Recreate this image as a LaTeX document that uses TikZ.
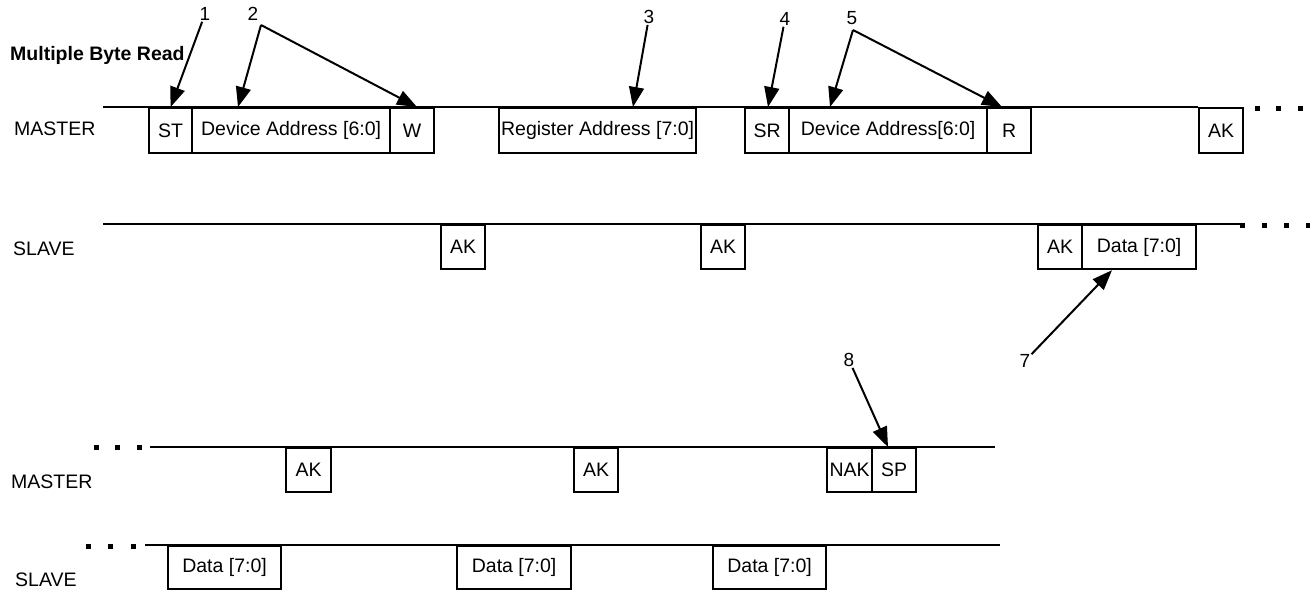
\documentclass[tikz,border=0pt]{standalone}
\usepackage{fontspec}
\setmainfont{Liberation Sans}
\usetikzlibrary{arrows.meta}
\newcommand*{\gapDots}[2]{ %#1 is the height of the wire, #2 the list of x positions
	\foreach \x in {#2}
	\fill (\x-2.5,#1-2.5) rectangle ++(5,5);
}
\tikzset{
	fld/.style={draw, line width=2.2pt, anchor=north west, inner sep=0pt,
		minimum height=45pt, font=\fontsize{19.5}{22}\selectfont},
	wire/.style={line width=2.2pt},
	callout/.style={line width=2pt, -{Triangle[length=20pt,width=15pt]}},
	num/.style={font=\fontsize{19}{21}\selectfont, inner sep=1pt},
	rowname/.style={anchor=west, inner sep=0pt, font=\fontsize{19.5}{22}\selectfont},
}

\begin{document}
\begin{tikzpicture}[x=1pt,y=-1pt]
		\useasboundingbox (0,0) rectangle (1310,590);
		
		% title and row names
		\node[rowname,font=\fontsize{19.5}{22}\selectfont\bfseries] (title) at (10,55) {Multiple Byte Read};
		\node[rowname] (mst1) at (14,129) {MASTER};
		\node[rowname] (slv1) at (13,249) {SLAVE};
		\node[rowname] (mst2) at (11,482) {MASTER};
		\node[rowname] (slv2) at (15,580) {SLAVE};
		
		% the wires
		\draw[wire] (103,107) -- (1198,107);
		\draw[wire] (103,224) -- (1242,224);
		\draw[wire] (150,447) -- (995,447);
		\draw[wire] (145,545) -- (1000,545);
		\gapDots{108}{1257,1278,1300}
		\gapDots{225}{1242,1264,1286,1308}
		\gapDots{447}{96,117,139}
		\gapDots{546}{88,110,133}
		
		% master fields, first line
		\foreach \nm/\x/\w/\texto in {st/148/43/ST, da1/191/198/{Device Address [6:0]}, wb/389/44/W,
			ra/498/197/{Register Address [7:0]}, sr/744/44/SR, da2/788/198/{Device Address[6:0]},
			rb/986/44/R, mak1/1198/44/AK}
		{
			\node[fld,minimum width=\w] (\nm) at (\x,107) {\texto};
		}
		% slave fields, first line
		\foreach \nm/\x/\w/\texto in {sak1/440/44/AK, sak2/700/44/AK, sak3/1037/44/AK, sd1/1081/114/{Data [7:0]}}
		{
			\node[fld,minimum width=\w,minimum height=44] (\nm) at (\x,224) {\texto};
		}
		% master fields, second line
		\foreach \nm/\x/\w/\texto in {mak2/285/45/AK, mak3/573/44/AK, nak/826/45/NAK, sp/871/44/SP}
		{
			\node[fld,minimum width=\w,minimum height=44] (\nm) at (\x,447) {\texto};
		}
		% slave fields, second line
		\foreach \nm/\x/\w/\texto in {sd2/167/113/{Data [7:0]}, sd3/456/114/{Data [7:0]}, sd4/712/113/{Data [7:0]}}
		{
			\node[fld,minimum width=\w,minimum height=43] (\nm) at (\x,545) {\texto};
		}
		
		% numbered callouts
		\node[num] (n1) at (205,14) {1};
		\node[num] (n2) at (253,14) {2};
		\node[num] (n3) at (649,17) {3};
		\node[num] (n4) at (785,19) {4};
		\node[num] (n5) at (852,18) {5};
		\node[num] (n7) at (1025,361) {7};
		\node[num] (n8) at (849,360) {8};
		\coordinate (v2) at (261,25);
		\coordinate (v5) at (853,30);
		
		\draw[callout] (n1) -- (st.north);
		\draw[callout] (v2) -- (da1.north -| 238,0);
		\draw[callout] (v2) -- (wb.north -| 417,0);
		\draw[callout] (n3) -- (ra.north -| 633,0);
		\draw[callout] (n4) -- (sr.north -| 768,0);
		\draw[callout] (v5) -- (da2.north -| 830,0);
		\draw[callout] (v5) -- (rb.north -| 1002,0);
		\draw[callout] (n7) -- (sd1.south -| 1112,0);
		\draw[callout] (n8) -- (sp.north -| 888,0);
		
\end{tikzpicture}
\end{document}
